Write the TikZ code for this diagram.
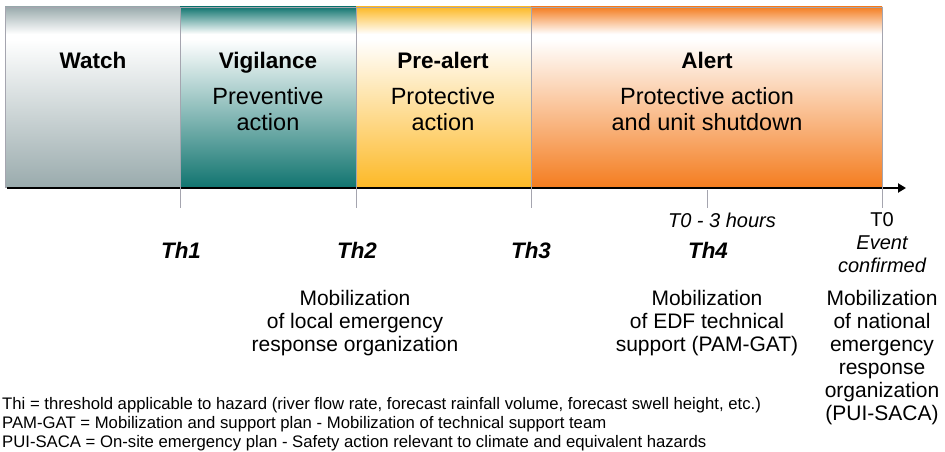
\documentclass[tikz,border=0pt]{standalone}
\usepackage{fontspec}
\setmainfont{Liberation Sans}
\usetikzlibrary{arrows.meta,positioning}
\definecolor{watchgray}{RGB}{154,171,173}
\definecolor{vigteal}{RGB}{18,117,112}
\definecolor{prealertyellow}{RGB}{253,185,39}
\definecolor{alertorange}{RGB}{244,125,32}
\definecolor{tickgray}{RGB}{165,165,175}
\pgfdeclareverticalshading{watchshade}{100bp}{color(0bp)=(watchgray); color(25bp)=(watchgray);
  color(66bp)=(white); color(67.5bp)=(white); color(75bp)=(watchgray); color(100bp)=(watchgray)}
\pgfdeclareverticalshading{vigshade}{100bp}{color(0bp)=(vigteal); color(25bp)=(vigteal);
  color(66bp)=(white); color(67.5bp)=(white); color(75bp)=(vigteal); color(100bp)=(vigteal)}
\pgfdeclareverticalshading{preshade}{100bp}{color(0bp)=(prealertyellow); color(25bp)=(prealertyellow);
  color(66bp)=(white); color(67.5bp)=(white); color(75bp)=(prealertyellow); color(100bp)=(prealertyellow)}
\pgfdeclareverticalshading{alertshade}{100bp}{color(0bp)=(alertorange); color(25bp)=(alertorange);
  color(66bp)=(white); color(67.5bp)=(white); color(75bp)=(alertorange); color(100bp)=(alertorange)}
\tikzset{
  band/.style={rectangle,draw=tickgray,line width=0.6pt,shade,minimum height=180pt,
    inner sep=0pt,outer sep=0pt},
  bandtitle/.style={font=\fontsize{22.5}{25}\selectfont\bfseries,inner sep=0pt,anchor=base},
  bandtext/.style={font=\fontsize{23.5}{26}\selectfont,align=center,inner sep=0pt},
  thlabel/.style={font=\fontsize{22.4}{24}\selectfont\bfseries\itshape,inner sep=0pt},
  timelabel/.style={font=\fontsize{20}{23}\selectfont,align=center,inner sep=0pt},
  mobtext/.style={font=\fontsize{21}{23}\selectfont,align=center,inner sep=0pt},
  legendtext/.style={font=\fontsize{16.7}{19}\selectfont,align=left,inner sep=0pt},
  axisline/.style={-{Triangle[length=8pt,width=9pt]},line width=2.6pt,black},
  tickline/.style={draw=tickgray,line width=0.7pt}
}
\begin{document}
\begin{tikzpicture}[x=1pt,y=-1pt]
  \useasboundingbox (0,0) rectangle (945,452);
  % phases
  \node[band,shading=watchshade,minimum width=175pt] (watch) at (92.5,97) {};
  \node[band,shading=vigshade,minimum width=176pt] (vigilance) at (268,97) {};
  \node[band,shading=preshade,minimum width=175pt] (prealert) at (443.5,97) {};
  \node[band,shading=alertshade,minimum width=351pt] (alert) at (706.5,97) {};

  \node[bandtitle] (watchtitle) at (93,68) {Watch};
  \node[bandtitle] (vigtitle) at (268,68) {Vigilance};
  \node[bandtitle] (pretitle) at (443,68) {Pre-alert};
  \node[bandtitle] (alerttitle) at (707,68) {Alert};
  \node[bandtext] (vigtext) at (268,109) {Preventive\\action};
  \node[bandtext] (pretext) at (443,109) {Protective\\action};
  \node[bandtext] (alerttext) at (707,109) {Protective action\\and unit shutdown};

  % time axis
  \coordinate (axisstart) at (7,188);
  \coordinate (axisend) at (906,188);
  \draw[axisline] (axisstart) -- (axisend);
  \coordinate (tickA) at (180,208);
  \coordinate (tickB) at (356,208);
  \coordinate (tickC) at (531,208);
  \coordinate (tickD) at (707,208);
  \coordinate (tickE) at (882,208);
  \coordinate (midalert) at (707,190);
  \draw[tickline] (watch.south east) -- (tickA);
  \draw[tickline] (vigilance.south east) -- (tickB);
  \draw[tickline] (prealert.south east) -- (tickC);
  \draw[tickline] (midalert) -- (tickD);
  \draw[tickline] (alert.south east) -- (tickE);

  % thresholds
  \node[thlabel] (th1) at (181,250) {Th1};
  \node[thlabel] (th2) at (357,250) {Th2};
  \node[thlabel] (th3) at (531,250) {Th3};
  \node[thlabel] (th4) at (708,250) {Th4};
  \node[timelabel] (tminus) at (722,220) {\itshape T0 - 3 hours};
  \node[timelabel] (tzero) at (882,243) {T0\\\itshape Event\\\itshape confirmed};

  % mobilizations
  \node[mobtext] (moblocal) at (355,323) {Mobilization\\of local emergency\\response organization};
  \node[mobtext] (mobedf) at (707,323) {Mobilization\\of EDF technical\\support (PAM-GAT)};
  \node[mobtext] (mobnat) at (882,357.5) {Mobilization\\of national\\emergency\\response\\organization\\(PUI-SACA)};

  \node[legendtext,anchor=west] (legend) at (2,424) {Thi = threshold applicable to hazard (river flow rate, forecast rainfall volume, forecast swell height, etc.)\\
    PAM-GAT = Mobilization and support plan - Mobilization of technical support team\\
    PUI-SACA = On-site emergency plan - Safety action relevant to climate and equivalent hazards};
\end{tikzpicture}
\end{document}
